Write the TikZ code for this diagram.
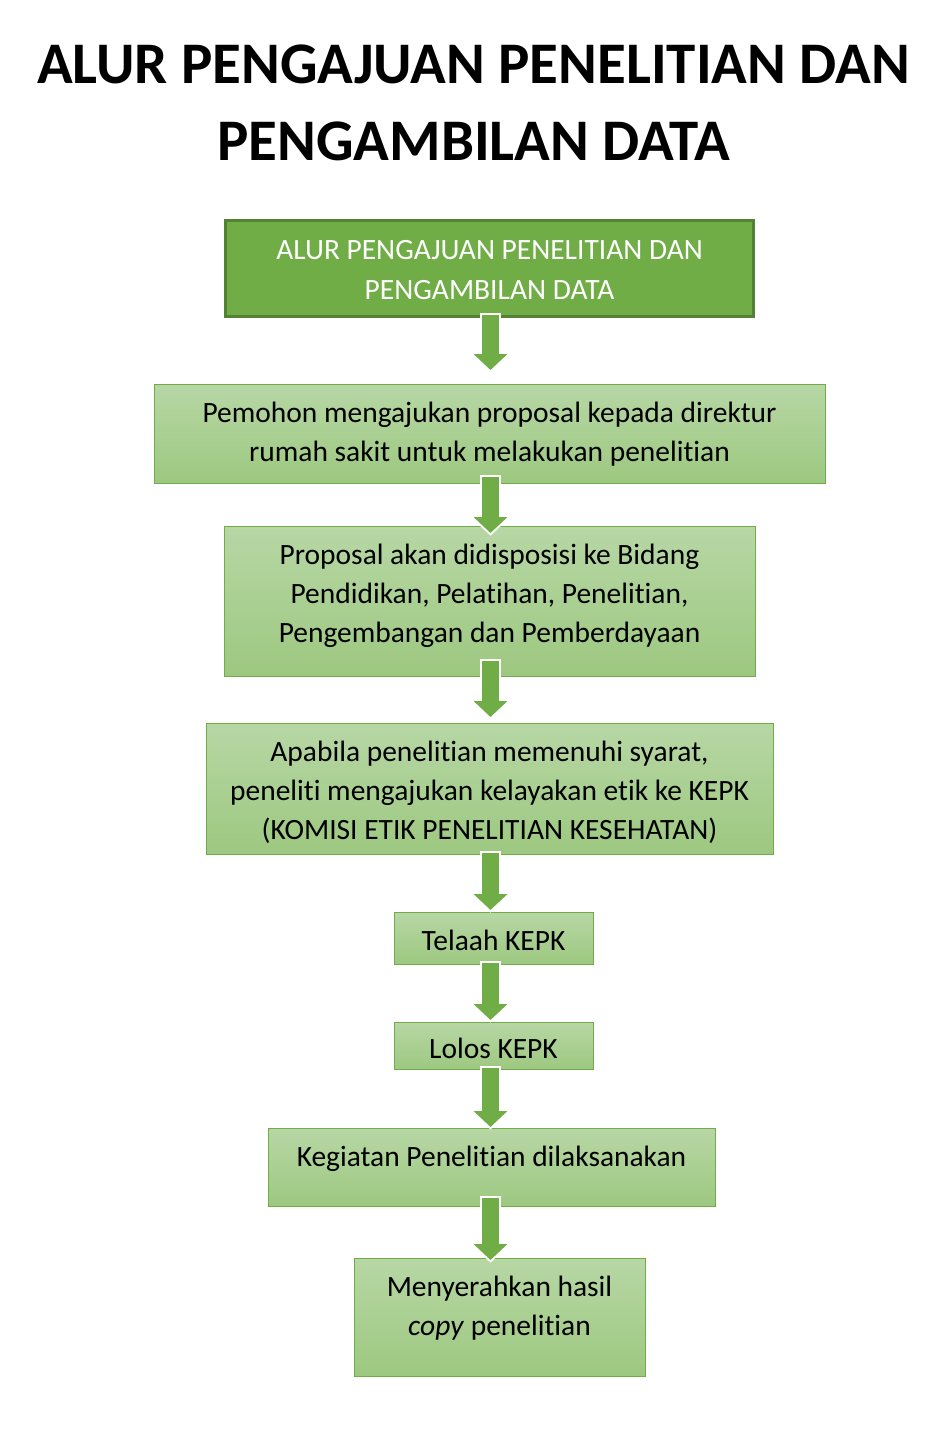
\documentclass[tikz,border=0pt]{standalone}
\usepackage{fontspec}
\setmainfont{Carlito}[Ligatures={NoCommon,NoContextual},Contextuals=NoAlternate]
\usetikzlibrary{calc,arrows.meta}
\definecolor{hijau}{RGB}{112,173,71}
\definecolor{hijautua}{RGB}{84,130,53}
\definecolor{hijaumuda}{RGB}{183,215,165}
\definecolor{hijaubawah}{RGB}{157,200,128}

\begin{document}
\begin{tikzpicture}[x=0.75pt,y=-0.75pt,
        judul/.style={font=\fontsize{44.2}{57.75}\selectfont\bfseries,align=center,inner sep=0},
        kotak/.style={draw=hijau,line width=0.75pt,top color=hijaumuda,bottom color=hijaubawah,
            outer sep=0,inner sep=0,align=center,text height=28.5pt,font=\fontsize{22.1}{29.6}\selectfont},
        alir/.style={draw=hijau,line width=12.75pt,-{Triangle[length=12pt,width=24.75pt]},
            preaction={draw=white,line width=15.75pt,shorten <=-1.5pt,shorten >=-2pt,-{Triangle[length=14pt,width=29pt]}}}]
        \fill[white] (0,0) rectangle (943,1445);
        \useasboundingbox (0,0) rectangle (943,1445);
        \node[judul,anchor=base] (judul) at (473.5,160) {ALUR PENGAJUAN PENELITIAN DAN\\PENGAMBILAN DATA};
        \node[kotak,draw=hijautua,line width=2.25pt,shading=axis,top color=hijau,bottom color=hijau,text=white,
            minimum width=396pt,text height=59.2pt,text depth=12.8pt] (b0) at (489.5,220.5) [anchor=north] {ALUR PENGAJUAN PENELITIAN DAN\\PENGAMBILAN DATA};
        \node[kotak,minimum width=503.25pt,text height=58.1pt,text depth=16.15pt,anchor=north] (b1) at (489.5,384) {Pemohon mengajukan proposal kepada direktur\\rumah sakit untuk melakukan penelitian};
        \node[kotak,minimum width=398.25pt,text height=87.7pt,text depth=24.8pt,anchor=north] (b2) at (489.5,526) {Proposal akan didisposisi ke Bidang\\Pendidikan, Pelatihan, Penelitian,\\Pengembangan dan Pemberdayaan};
        \node[kotak,minimum width=425.25pt,text height=87.7pt,text depth=10.55pt,anchor=north] (b3) at (489.5,723) {Apabila penelitian memenuhi syarat,\\peneliti mengajukan kelayakan etik ke KEPK\\(KOMISI ETIK PENELITIAN KESEHATAN)};
        \node[kotak,minimum width=149.25pt,text depth=10.5pt,anchor=north] (b4) at (493.5,912) {Telaah KEPK};
        \node[kotak,minimum width=149.25pt,text depth=8.5pt,text height=27pt,anchor=north] (b5) at (493.5,1022) {Lolos KEPK};
        \node[kotak,minimum width=335.25pt,text depth=30pt,anchor=north] (b6) at (491.5,1128) {Kegiatan Penelitian dilaksanakan};
        \node[kotak,minimum width=218.25pt,text height=58.1pt,text depth=30.4pt,anchor=north] (b7) at (499.5,1258) {Menyerahkan hasil\\\textit{copy} penelitian};
        \coordinate (ax) at (490.5,0);
        % panah antar kotak
        \foreach \a/\b/\s/\e in {b0/b1/-1.5/-14,b1/b2/-6/7,b2/b3/-15/-6,b3/b4/-1/-2,b4/b5/-1/-2,b5/b6/-1/-1,b6/b7/-8/2}
            \draw[alir] ($(ax |- \a.south)+(0,\s)$) -- ($(ax |- \b.north)+(0,\e)$);
    \end{tikzpicture}
\end{document}
